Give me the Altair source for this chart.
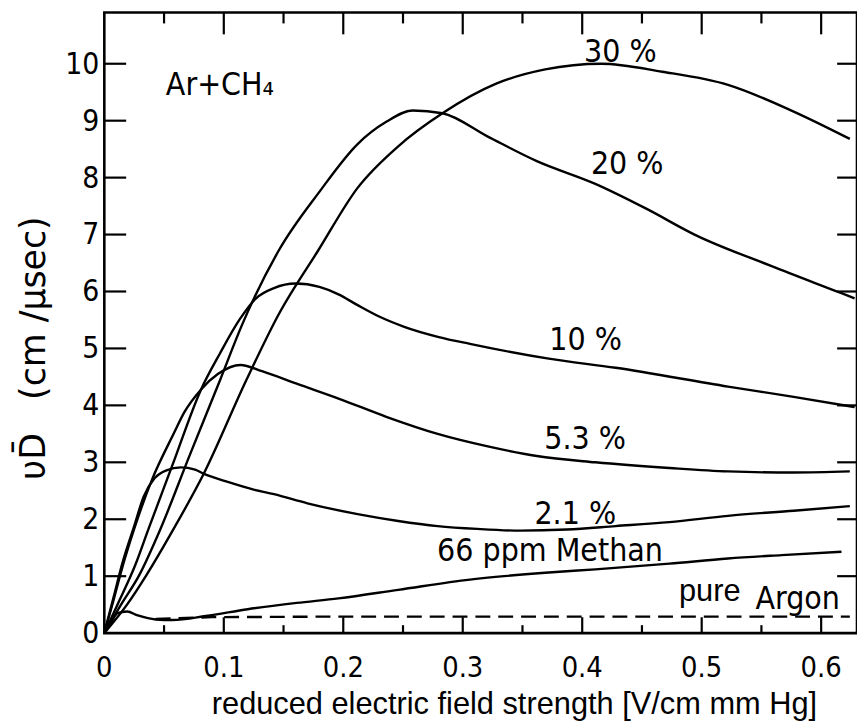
import altair as alt
import pandas as pd

# ---------------- data ----------------
series_names = ["30 %", "20 %", "10 %", "5.3 %", "2.1 %", "66 ppm Methan"]

x_30 = [0, 0.019, 0.035, 0.058, 0.083, 0.119, 0.146, 0.179, 0.212, 0.246, 0.283, 0.328, 0.369, 0.416, 0.467, 0.522, 0.577, 0.624]
y_30 = [0, 0.5, 1.01, 1.83, 2.79, 4.45, 5.6, 6.72, 7.82, 8.55, 9.13, 9.65, 9.9, 10.0, 9.86, 9.63, 9.16, 8.68]

x_20 = [0, 0.014, 0.029, 0.047, 0.071, 0.097, 0.115, 0.146, 0.180, 0.212, 0.236, 0.258, 0.283, 0.321, 0.362, 0.411, 0.454, 0.494, 0.558, 0.617, 0.628]
y_20 = [0, 0.5, 1.01, 1.83, 3.1, 4.45, 5.4, 6.72, 7.75, 8.59, 8.98, 9.18, 9.13, 8.72, 8.29, 7.89, 7.45, 7.0, 6.45, 5.97, 5.88]

x_10 = [0, 0.011, 0.026, 0.037, 0.057, 0.081, 0.097, 0.113, 0.127, 0.142, 0.160, 0.180, 0.196, 0.212, 0.230, 0.251, 0.280, 0.306, 0.372, 0.428, 0.522, 0.577, 0.628]
y_10 = [0, 0.5, 1.2, 1.83, 2.95, 4.28, 4.92, 5.5, 5.88, 6.06, 6.14, 6.08, 5.95, 5.76, 5.56, 5.38, 5.2, 5.08, 4.82, 4.66, 4.33, 4.15, 3.97]

x_53 = [0, 0.008, 0.015, 0.025, 0.040, 0.058, 0.067, 0.081, 0.095, 0.114, 0.132, 0.161, 0.196, 0.236, 0.279, 0.321, 0.362, 0.411, 0.473, 0.522, 0.577, 0.624]
y_53 = [0, 0.6, 1.15, 1.83, 2.7, 3.5, 3.88, 4.28, 4.55, 4.71, 4.6, 4.38, 4.12, 3.8, 3.5, 3.28, 3.11, 3.0, 2.9, 2.84, 2.82, 2.84]

x_21 = [0, 0.008, 0.015, 0.025, 0.033, 0.042, 0.052, 0.064, 0.076, 0.083, 0.104, 0.125, 0.142, 0.170, 0.212, 0.246, 0.279, 0.312, 0.348, 0.387, 0.428, 0.473, 0.522, 0.577, 0.624]
y_21 = [0, 0.65, 1.22, 1.88, 2.4, 2.72, 2.86, 2.91, 2.87, 2.8, 2.65, 2.52, 2.44, 2.28, 2.09, 1.97, 1.88, 1.83, 1.80, 1.82, 1.88, 1.95, 2.06, 2.15, 2.23]

x_66 = [0, 0.006, 0.011, 0.019, 0.028, 0.043, 0.057, 0.085, 0.120, 0.161, 0.196, 0.246, 0.306, 0.369, 0.411, 0.473, 0.522, 0.567, 0.617]
y_66 = [0, 0.2, 0.35, 0.38, 0.31, 0.24, 0.23, 0.3, 0.42, 0.53, 0.61, 0.76, 0.94, 1.06, 1.12, 1.22, 1.31, 1.37, 1.43]

x_argon = [0.043, 0.09, 0.19, 0.28, 0.38, 0.47, 0.57, 0.624]
y_argon = [0.25, 0.28, 0.29, 0.29, 0.29, 0.29, 0.29, 0.29]

x_tick_labels = [0, 0.1, 0.2, 0.3, 0.4, 0.5, 0.6]
x_major_ticks = [0.1, 0.2, 0.3, 0.4, 0.5, 0.6]
x_minor_ticks = [0.05, 0.15, 0.25, 0.35, 0.45, 0.55]
y_tick_labels = [0, 1, 2, 3, 4, 5, 6, 7, 8, 9, 10]
y_major_ticks = [1, 2, 3, 4, 5, 6, 7, 8, 9, 10]

curve_labels = ["30 %", "20 %", "10 %", "5.3 %", "2.1 %", "66 ppm Methan"]
gas_label = "Ar+CH₄"
argon_label = "Argon"
pure_label = "pure"
x_title = "reduced electric field strength [V/cm mm Hg]"
y_title = "υD̄\u00a0\u00a0\u00a0(cm /µsec)"

# ---------------- layout / style ----------------
W, H = 758, 625
X_DOMAIN = [0, 0.63]
Y_DOMAIN = [0, 10.9]
LETTER_FONT = "DejaVu Sans Condensed"
ARIAL = "Liberation Sans"

# label anchor positions (left edge, baseline) in data units
label_pos = [(0.4015, 10.03), (0.4073, 8.06), (0.3724, 4.97), (0.3682, 3.23), (0.360, 1.92), (0.2785, 1.26)]
gas_pos = (0.0515, 9.45)
argon_pos = (0.545, 0.42)
pure_pos = (0.481, 0.56)

xscale = alt.Scale(domain=X_DOMAIN, nice=False, zero=False)
yscale = alt.Scale(domain=Y_DOMAIN, nice=False, zero=False)

# ---------------- tables ----------------
rows = []
for name, xs, ys in zip(series_names,
                        [x_30, x_20, x_10, x_53, x_21, x_66],
                        [y_30, y_20, y_10, y_53, y_21, y_66]):
    for i, (a, b) in enumerate(zip(xs, ys)):
        rows.append({"series": name, "E": a, "v": b, "i": i})
curves_df = pd.DataFrame(rows)
argon_df = pd.DataFrame({"E": x_argon, "v": y_argon})

curves = alt.Chart(curves_df).mark_line(
    color="black", strokeWidth=2.4, interpolate="monotone", clip=True
).encode(
    x=alt.X("E:Q", scale=xscale, axis=None),
    y=alt.Y("v:Q", scale=yscale, axis=None),
    detail="series:N",
    order="i:Q",
)

argon = alt.Chart(argon_df).mark_line(
    color="black", strokeWidth=2.4, strokeDash=[15, 8], clip=True
).encode(
    x=alt.X("E:Q", scale=xscale, axis=None),
    y=alt.Y("v:Q", scale=yscale, axis=None),
)

def xticks(vals, y0, y1):
    return alt.Chart(pd.DataFrame({"t": vals})).mark_rule(color="black", strokeWidth=2.2).encode(
        x=alt.X("t:Q", scale=xscale, axis=None), y=alt.value(y0), y2=alt.value(y1))

def yticks(vals, x0, x1):
    return alt.Chart(pd.DataFrame({"t": vals})).mark_rule(color="black", strokeWidth=2.2).encode(
        y=alt.Y("t:Q", scale=yscale, axis=None), x=alt.value(x0), x2=alt.value(x1))

tick_layers = [
    xticks(x_major_ticks, H, H - 16),
    xticks(x_minor_ticks, H, H - 8),
    xticks(x_major_ticks, 0, 22),
    xticks(x_minor_ticks, 0, 11),
    yticks(y_major_ticks, 0, 22),
    yticks(y_major_ticks, W, W - 20),
]

# tick labels, positioned through the scales
xlab = alt.Chart(pd.DataFrame({"t": x_tick_labels})).mark_text(
    font=LETTER_FONT, fontSize=29, align="center", baseline="alphabetic", color="black"
).encode(
    x=alt.X("t:Q", scale=xscale, axis=None),
    y=alt.value(H + 44),
    text=alt.Text("t:Q", format=".1~f"),
)
ylab = alt.Chart(pd.DataFrame({"t": y_tick_labels})).mark_text(
    font=LETTER_FONT, fontSize=30, align="right", baseline="middle", color="black", dy=1
).encode(
    y=alt.Y("t:Q", scale=yscale, axis=None),
    x=alt.value(-5),
    text=alt.Text("t:Q", format="d"),
)

lab_df = pd.DataFrame({
    "label": curve_labels + [gas_label, argon_label],
    "lx": [p[0] for p in label_pos] + [gas_pos[0], argon_pos[0]],
    "ly": [p[1] for p in label_pos] + [gas_pos[1], argon_pos[1]],
})
curve_text = alt.Chart(lab_df).mark_text(
    font=LETTER_FONT, fontSize=32, align="left", baseline="alphabetic", color="black"
).encode(
    x=alt.X("lx:Q", scale=xscale, axis=None),
    y=alt.Y("ly:Q", scale=yscale, axis=None),
    text="label:N",
)
pure_text = alt.Chart(pd.DataFrame({"label": [pure_label], "lx": [pure_pos[0]], "ly": [pure_pos[1]]})).mark_text(
    font=ARIAL, fontSize=31, align="left", baseline="alphabetic", color="black"
).encode(
    x=alt.X("lx:Q", scale=xscale, axis=None),
    y=alt.Y("ly:Q", scale=yscale, axis=None),
    text="label:N",
)

xtitle = alt.Chart(pd.DataFrame({"t": [x_title]})).mark_text(
    font=ARIAL, fontSize=31, align="center", baseline="alphabetic", color="black"
).encode(text="t:N", x=alt.value(413), y=alt.value(H + 81))

ytitle = alt.Chart(pd.DataFrame({"t": [y_title]})).mark_text(
    font="DejaVu Sans", fontSize=35, align="center", baseline="middle", angle=270, color="black"
).encode(text="t:N", x=alt.value(-71), y=alt.value(338))

chart = alt.layer(
    curves, argon, *tick_layers, xlab, ylab, curve_text, pure_text, xtitle, ytitle
).properties(
    width=W, height=H,
    autosize=alt.AutoSizeParams(type="none"),
    padding={"left": 97, "top": 2, "right": 0, "bottom": 90},
    background="white",
).configure_view(
    stroke="black", strokeWidth=2.6
)

chart.save("out.html", embed_options={"renderer": "svg", "actions": False})
